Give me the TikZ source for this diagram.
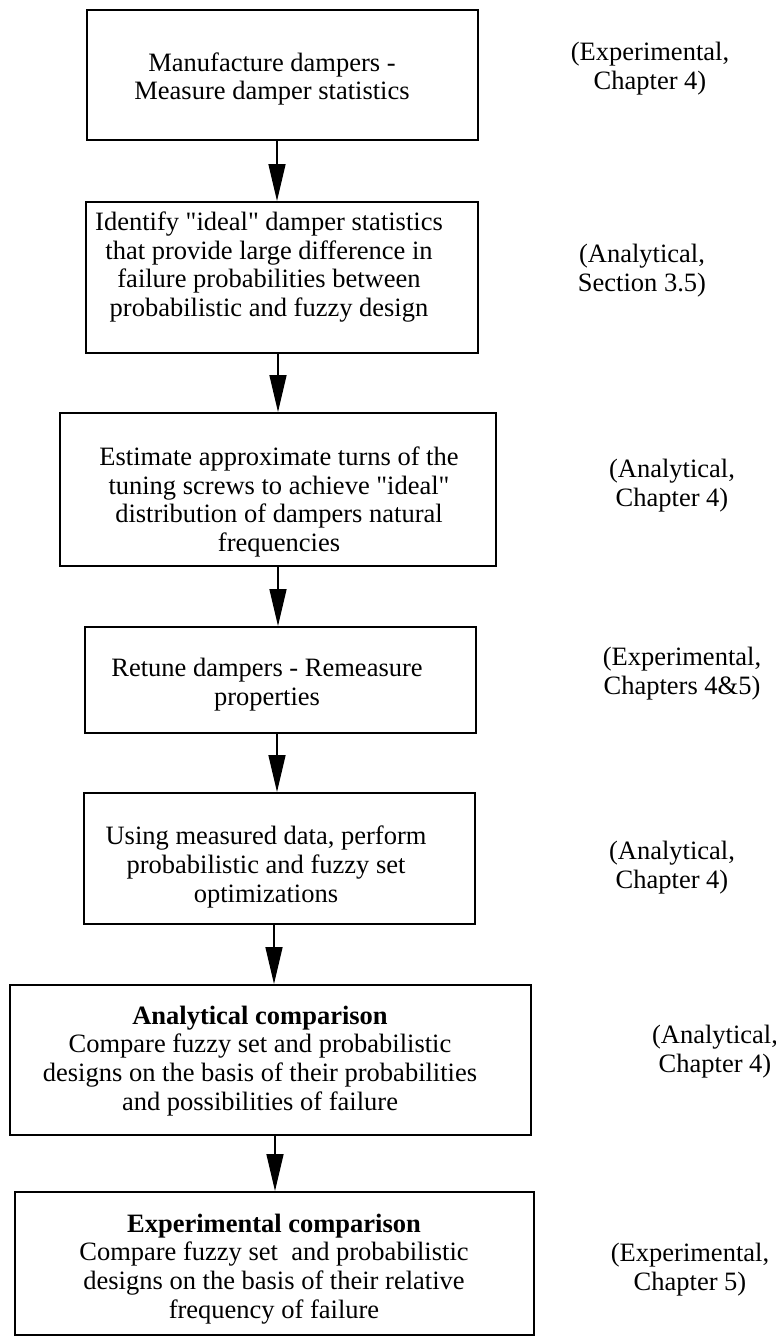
\documentclass[tikz,border=0pt]{standalone}
\usepackage{fontspec}
\setmainfont{Liberation Serif}
\usetikzlibrary{arrows.meta}
\begin{document}
\begin{tikzpicture}[x=1pt,y=-1pt,
  box/.style={draw, line width=2pt, inner sep=0pt, rectangle},
  txt/.style={align=center, inner sep=0pt, font=\fontsize{26.5}{28.8}\selectfont},
  arr/.style={line width=1.6pt, -{Triangle[length=37pt,width=17pt]}}]
\useasboundingbox (0,0) rectangle (776,1336);
% boxes
\node[box, minimum width=391pt, minimum height=130pt] (b1) at (282.5,75) {};
\node[box, minimum width=392pt, minimum height=151pt] (b2) at (282,277.5) {};
\node[box, minimum width=436pt, minimum height=153pt] (b3) at (278,489.5) {};
\node[box, minimum width=391pt, minimum height=106pt] (b4) at (280.5,680) {};
\node[box, minimum width=391pt, minimum height=131pt] (b5) at (279.5,858.5) {};
\node[box, minimum width=521pt, minimum height=150pt] (b6) at (270.5,1060) {};
\node[box, minimum width=519pt, minimum height=143pt] (b7) at (274.5,1263.5) {};
% box texts
\node[txt] (t1) at (272,79) {Manufacture dampers -\\Measure damper statistics};
\node[txt] (t2) at (269,267) {Identify \textquotedbl ideal\textquotedbl{} damper statistics\\that provide large difference in\\failure probabilities between\\probabilistic and fuzzy design};
\node[txt] (t3) at (279,502) {Estimate approximate turns of the\\tuning screws to achieve \textquotedbl ideal\textquotedbl\\distribution of dampers natural\\frequencies};
\node[txt] (t4) at (267,685) {Retune dampers - Remeasure\\properties};
\node[txt] (t5) at (266,867) {Using measured data, perform\\probabilistic and fuzzy set\\optimizations};
\node[txt] (t6) at (260,1061) {\textbf{Analytical comparison}\\Compare fuzzy set and probabilistic\\designs on the basis of their probabilities\\and possibilities of failure};
\node[txt] (t7) at (274,1269) {\textbf{Experimental comparison}\\Compare fuzzy set\ \ and probabilistic\\designs on the basis of their relative\\frequency of failure};
% side labels
\node[txt] (l1) at (650,69) {(Experimental,\\Chapter 4)};
\node[txt] (l2) at (642,271) {(Analytical,\\Section 3.5)};
\node[txt] (l3) at (672,486) {(Analytical,\\Chapter 4)};
\node[txt] (l4) at (682,674) {(Experimental,\\Chapters 4\&5)};
\node[txt] (l5) at (672,868) {(Analytical,\\Chapter 4)};
\node[txt] (l6) at (715,1052) {(Analytical,\\Chapter 4)};
\node[txt] (l7) at (690,1270) {(Experimental,\\Chapter 5)};
% arrows
\draw[arr] ([xshift=-5.5pt]b1.south) -- ([xshift=-5.5pt]b1.south |- b2.north);
\draw[arr] ([xshift=-4pt]b2.south) -- ([xshift=-4pt]b2.south |- b3.north);
\draw[arr] (b3.south) -- (b3.south |- b4.north);
\draw[arr] ([xshift=-3.5pt]b4.south) -- ([xshift=-3.5pt]b4.south |- b5.north);
\draw[arr] ([xshift=-5.5pt]b5.south) -- ([xshift=-5.5pt]b5.south |- b6.north);
\draw[arr] ([xshift=4.5pt]b6.south) -- ([xshift=4.5pt]b6.south |- b7.north);
\end{tikzpicture}
\end{document}
